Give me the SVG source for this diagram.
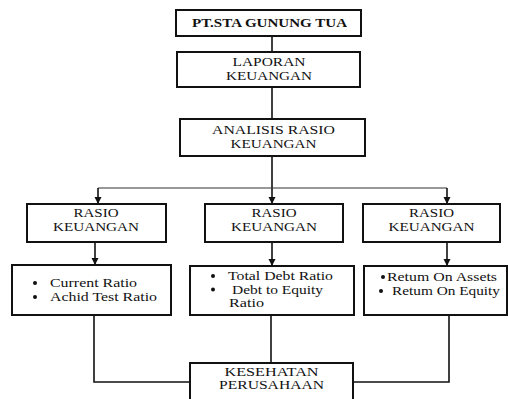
<svg xmlns="http://www.w3.org/2000/svg" width="508" height="399" viewBox="0 0 508 399">
<defs>
<style>
.box{fill:#fff;stroke:#111;stroke-width:2}
.t{font-family:"Liberation Serif","Times New Roman",serif;font-size:12px;fill:#111}
.c{text-anchor:middle}
.ln{fill:none;stroke:#111;stroke-width:1.6}
.hl{fill:none;stroke:#333;stroke-width:1.2}
</style>
<marker id="ah" markerUnits="userSpaceOnUse" markerWidth="8" markerHeight="8" refX="7" refY="4" orient="auto">
<path d="M0,0.5 L7,4 L0,7.5 z" fill="#111"/>
</marker>
</defs>
<rect width="508" height="399" fill="#fff"/>
<g id="connectors">
<line class="ln" x1="272" y1="36" x2="272" y2="52"/>
<line class="ln" x1="272" y1="87" x2="272" y2="119"/>
<line class="ln" x1="272" y1="156" x2="272" y2="204" marker-end="url(#ah)"/>
<line class="hl" x1="98" y1="188" x2="447" y2="188"/>
<line class="ln" x1="98" y1="188" x2="98" y2="204" marker-end="url(#ah)"/>
<line class="ln" x1="447" y1="188" x2="447" y2="204" marker-end="url(#ah)"/>
<line class="ln" x1="95" y1="242" x2="95" y2="265" marker-end="url(#ah)"/>
<line class="ln" x1="272" y1="242" x2="272" y2="266" marker-end="url(#ah)"/>
<line class="ln" x1="447" y1="242" x2="447" y2="266" marker-end="url(#ah)"/>
<polyline class="ln" points="94,315 94,382 189,382"/>
<line class="ln" x1="271" y1="315" x2="271" y2="363"/>
<polyline class="ln" points="449,315 449,382 353,382"/>
</g>
<g id="pt-sta">
<rect class="box" x="176" y="10" width="185" height="26"/>
<text class="t c" x="269.5" y="27" font-weight="bold" textLength="155" lengthAdjust="spacingAndGlyphs">PT.STA GUNUNG TUA</text>
</g>
<g id="laporan">
<rect class="box" x="177" y="52" width="183" height="35"/>
<text class="t c" x="269" y="66" textLength="73" lengthAdjust="spacingAndGlyphs">LAPORAN</text>
<text class="t c" x="269" y="80" textLength="86" lengthAdjust="spacingAndGlyphs">KEUANGAN</text>
</g>
<g id="analisis">
<rect class="box" x="180" y="119" width="185" height="37"/>
<text class="t c" x="273.5" y="134" textLength="123" lengthAdjust="spacingAndGlyphs">ANALISIS RASIO</text>
<text class="t c" x="273.5" y="148" textLength="86" lengthAdjust="spacingAndGlyphs">KEUANGAN</text>
</g>
<g id="rasio-1">
<rect class="box" x="27" y="204" width="139" height="38"/>
<text class="t c" x="96" y="217" textLength="45" lengthAdjust="spacingAndGlyphs">RASIO</text>
<text class="t c" x="96" y="231" textLength="86" lengthAdjust="spacingAndGlyphs">KEUANGAN</text>
</g>
<g id="rasio-2">
<rect class="box" x="205" y="204" width="138" height="38"/>
<text class="t c" x="274" y="217" textLength="45" lengthAdjust="spacingAndGlyphs">RASIO</text>
<text class="t c" x="274" y="231" textLength="86" lengthAdjust="spacingAndGlyphs">KEUANGAN</text>
</g>
<g id="rasio-3">
<rect class="box" x="363" y="204" width="137" height="38"/>
<text class="t c" x="431.5" y="217" textLength="45" lengthAdjust="spacingAndGlyphs">RASIO</text>
<text class="t c" x="431.5" y="231" textLength="86" lengthAdjust="spacingAndGlyphs">KEUANGAN</text>
</g>
<g id="list-1">
<rect class="box" x="12" y="265" width="159" height="50"/>
<circle cx="35" cy="283" r="2" fill="#111"/>
<circle cx="35" cy="297" r="2" fill="#111"/>
<text class="t" x="50" y="287" textLength="87" lengthAdjust="spacingAndGlyphs">Current Ratio</text>
<text class="t" x="50" y="301" textLength="107" lengthAdjust="spacingAndGlyphs">Achid Test Ratio</text>
</g>
<g id="list-2">
<rect class="box" x="190" y="266" width="164" height="49"/>
<circle cx="213" cy="276" r="2" fill="#111"/>
<circle cx="213" cy="289.5" r="2" fill="#111"/>
<text class="t" x="228" y="280" textLength="105" lengthAdjust="spacingAndGlyphs">Total Debt Ratio</text>
<text class="t" x="232" y="293.5" textLength="91" lengthAdjust="spacingAndGlyphs">Debt to Equity</text>
<text class="t" x="229" y="307" textLength="35" lengthAdjust="spacingAndGlyphs">Ratio</text>
</g>
<g id="list-3">
<rect class="box" x="364" y="266" width="143" height="49"/>
<circle cx="383" cy="277" r="2" fill="#111"/>
<circle cx="381" cy="291" r="2" fill="#111"/>
<text class="t" x="387" y="281" textLength="110" lengthAdjust="spacingAndGlyphs">Retum On Assets</text>
<text class="t" x="392" y="295" textLength="108" lengthAdjust="spacingAndGlyphs">Retum On Equity</text>
</g>
<g id="kesehatan">
<rect class="box" x="190" y="363" width="163" height="40"/>
<text class="t c" x="271.5" y="375.5" textLength="94" lengthAdjust="spacingAndGlyphs">KESEHATAN</text>
<text class="t c" x="271.5" y="389" textLength="105" lengthAdjust="spacingAndGlyphs">PERUSAHAAN</text>
</g>
</svg>
